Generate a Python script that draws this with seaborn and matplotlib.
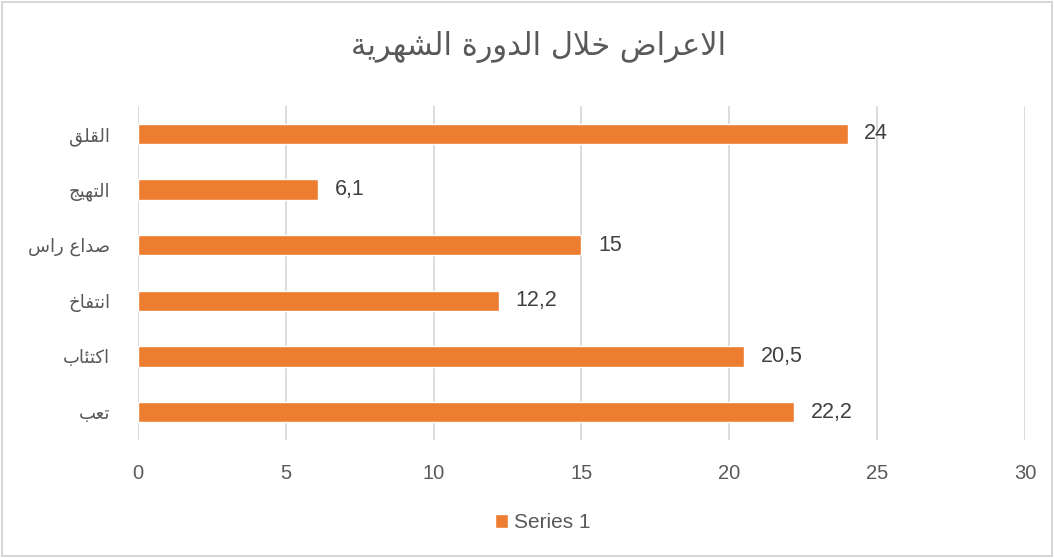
import matplotlib
matplotlib.use("Agg")
import matplotlib.pyplot as plt
import seaborn as sns
import pandas as pd
from matplotlib.patches import Rectangle

# ---------------- data ----------------
title_text = "الاعراض خلال الدورة الشهرية"
categories = ["القلق", "التهيج", "صداع راس", "انتفاخ", "اكتئاب", "تعب"]
values = [24, 6.1, 15, 12.2, 20.5, 22.2]
value_labels = ["24", "6,1", "15", "12,2", "20,5", "22,2"]
series_name = "Series 1"
x_ticks = [0, 5, 10, 15, 20, 25, 30]

# ---------------- minimal Arabic shaping ----------------
# forms: (isolated, final, initial, medial); None = no such form
FORMS = {
    "\u0626": (0xFE89, 0xFE8A, 0xFE8B, 0xFE8C),
    "\u0627": (0xFE8D, 0xFE8E, None, None),
    "\u0628": (0xFE8F, 0xFE90, 0xFE91, 0xFE92),
    "\u0629": (0xFE93, 0xFE94, None, None),
    "\u062A": (0xFE95, 0xFE96, 0xFE97, 0xFE98),
    "\u062B": (0xFE99, 0xFE9A, 0xFE9B, 0xFE9C),
    "\u062C": (0xFE9D, 0xFE9E, 0xFE9F, 0xFEA0),
    "\u062D": (0xFEA1, 0xFEA2, 0xFEA3, 0xFEA4),
    "\u062E": (0xFEA5, 0xFEA6, 0xFEA7, 0xFEA8),
    "\u062F": (0xFEA9, 0xFEAA, None, None),
    "\u0631": (0xFEAD, 0xFEAE, None, None),
    "\u0633": (0xFEB1, 0xFEB2, 0xFEB3, 0xFEB4),
    "\u0634": (0xFEB5, 0xFEB6, 0xFEB7, 0xFEB8),
    "\u0635": (0xFEB9, 0xFEBA, 0xFEBB, 0xFEBC),
    "\u0636": (0xFEBD, 0xFEBE, 0xFEBF, 0xFEC0),
    "\u0639": (0xFEC9, 0xFECA, 0xFECB, 0xFECC),
    "\u0641": (0xFED1, 0xFED2, 0xFED3, 0xFED4),
    "\u0642": (0xFED5, 0xFED6, 0xFED7, 0xFED8),
    "\u0643": (0xFED9, 0xFEDA, 0xFEDB, 0xFEDC),
    "\u0644": (0xFEDD, 0xFEDE, 0xFEDF, 0xFEE0),
    "\u0646": (0xFEE5, 0xFEE6, 0xFEE7, 0xFEE8),
    "\u0647": (0xFEE9, 0xFEEA, 0xFEEB, 0xFEEC),
    "\u0648": (0xFEED, 0xFEEE, None, None),
    "\u064A": (0xFEF1, 0xFEF2, 0xFEF3, 0xFEF4),
    "LA": (0xFEFB, 0xFEFC, None, None),
}


def joins_left(c):
    return c in FORMS and FORMS[c][2] is not None


def shape(text):
    toks = []
    i = 0
    while i < len(text):
        if text[i] == "\u0644" and i + 1 < len(text) and text[i + 1] == "\u0627":
            toks.append("LA")
            i += 2
        else:
            toks.append(text[i])
            i += 1
    out = []
    for k, t in enumerate(toks):
        if t not in FORMS:
            out.append(t)
            continue
        prev = toks[k - 1] if k > 0 else None
        nxt = toks[k + 1] if k + 1 < len(toks) else None
        jr = prev is not None and joins_left(prev)
        jl = joins_left(t) and nxt is not None and nxt in FORMS
        iso, fin, ini, med = FORMS[t]
        if jr and jl:
            cp = med
        elif jr:
            cp = fin
        elif jl:
            cp = ini
        else:
            cp = iso
        out.append(chr(cp))
    return "".join(out)[::-1]


# ---------------- styling ----------------
sns.set_theme(style="white")
plt.rcParams["font.family"] = ["Liberation Sans", "DejaVu Sans"]
TXT = "#595959"
LBL = "#404040"
ORANGE = "#ED7D31"
GRID = "#D9D9D9"

df = pd.DataFrame({"cat": [shape(c) for c in categories], "val": values})

fig = plt.figure(figsize=(10.54, 5.58), dpi=100)
ax = fig.add_axes([0.1309, 0.2115, 0.8416, 0.5985])

sns.barplot(data=df, x="val", y="cat", color=ORANGE, width=0.37,
            saturation=1, ax=ax, label=series_name, orient="h")

ax.set_xlim(0, 30)
ax.set_xticks(x_ticks)
ax.set_xlabel("")
ax.set_ylabel("")
for s in ax.spines.values():
    s.set_visible(False)
ax.grid(axis="x", color=GRID, linewidth=1.3)
ax.grid(axis="y", visible=False)
ax.set_axisbelow(True)
ax.tick_params(axis="x", length=0, pad=17, labelsize=14.5, labelcolor=TXT)
ax.tick_params(axis="y", length=0, pad=20, labelsize=13, labelcolor=TXT)
for lab in ax.get_yticklabels():
    lab.set_fontfamily(["DejaVu Sans"])

for cont in ax.containers:
    ax.bar_label(cont, labels=value_labels, padding=12, fontsize=15.5, color=LBL)

fig.text(0.511, 0.915, shape(title_text), ha="center", va="center",
         fontsize=22, color=TXT, family=["DejaVu Sans"])

leg = ax.legend(loc="center", bbox_to_anchor=(0.515, 0.063),
                bbox_transform=fig.transFigure, frameon=False,
                fontsize=15, handlelength=0.6, handleheight=0.6,
                handletextpad=0.3, labelcolor=TXT)

fig.patches.append(Rectangle((0.002, 0.003), 0.996, 0.994, transform=fig.transFigure,
                             fill=False, edgecolor="#D0D0D0", linewidth=1.2))

fig.savefig("out.png", dpi=100)
